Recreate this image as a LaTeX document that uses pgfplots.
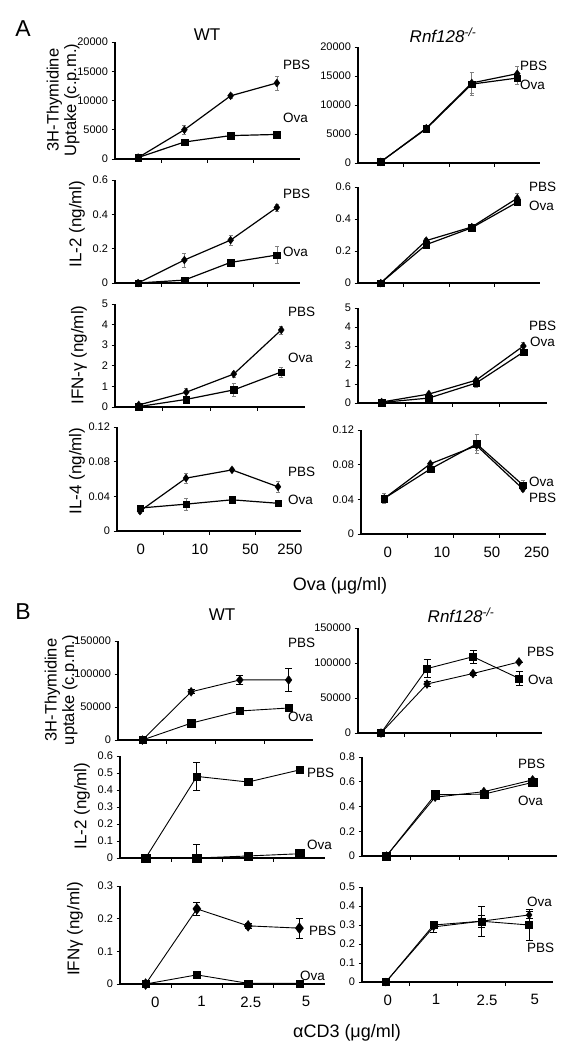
\documentclass[border=0pt]{standalone}
\usepackage{fontspec}
\setmainfont{Liberation Sans}
\usepackage{pgfplots}
\pgfplotsset{compat=1.18}
\newcommand{\fs}[1]{\fontsize{#1}{#1}\selectfont}
\pgfplotsset{
  panel/.style={
    scale only axis, anchor=south west,
    axis lines*=left,
    axis line style={line width=1.1pt, black},
    xmin=-0.5, xmax=3.5, ymin=0,
    xtick={0.5,1.5,2.5}, xticklabels={},
    tick align=outside, major tick length=3.5pt,
    tick style={black, line width=0.8pt},
    yticklabel style={font=\fs{11}, /pgf/number format/fixed, /pgf/number format/precision=2},
    /pgf/number format/assume math mode=true,
    /pgf/number format/set thousands separator={},
    scaled y ticks=false,
    clip=false,
  },
  botx/.style={extra x tick style={major tick length=0pt, xticklabel style={font=\fs{15}, yshift=-9pt}}},
  pA/.style={black, line width=1.2pt, mark=diamond*, mark size=4pt, mark options={solid, fill=black, line width=0.3pt}},
  oA/.style={black, line width=1.2pt, mark=square*, mark size=3.3pt, mark options={solid, fill=black, line width=0.3pt}},
  pB/.style={black, line width=0.9pt, mark=diamond*, mark size=4.5pt, mark options={solid, fill=black, line width=0.3pt}},
  oB/.style={black, line width=0.9pt, mark=square*, mark size=3.6pt, mark options={solid, fill=black, line width=0.3pt}},
  eA/.style={/pgfplots/error bars/y dir=both, /pgfplots/error bars/y explicit,
    /pgfplots/error bars/error bar style={line width=0.6pt, gray},
    /pgfplots/error bars/error mark options={rotate=90, mark size=2pt, line width=0.6pt, gray}},
  eB/.style={/pgfplots/error bars/y dir=both, /pgfplots/error bars/y explicit,
    /pgfplots/error bars/error bar style={line width=0.8pt, black},
    /pgfplots/error bars/error mark options={rotate=90, mark size=3.5pt, line width=0.8pt, black}},
}
\tikzset{
  lab/.style={font=\fs{13.5}, anchor=west, inner sep=0pt},
  ylab/.style={font=\fs{17}, rotate=90, anchor=center, inner sep=0pt, align=center},
  ttl/.style={font=\fs{17}, anchor=center, inner sep=0pt},
}
\begin{document}
\begin{tikzpicture}
\path[use as bounding box] (0,0) rectangle (580pt,-1050pt);

% ================= Panel A =================
% Row 1 WT
\begin{axis}[panel, at={(115pt,-159pt)}, width=185pt, height=117pt, ymax=20000, ytick={0,5000,10000,15000,20000}]
\addplot[pA,eA] table[row sep=\\, y error=e]{x y e\\ 0 250 0\\ 1 5000 800\\ 2 10800 400\\ 3 13000 1200\\};
\addplot[oA,eA] table[row sep=\\, y error=e]{x y e\\ 0 250 0\\ 1 2900 0\\ 2 4000 200\\ 3 4200 0\\};
\end{axis}
% Row 1 Rnf
\begin{axis}[panel, at={(358pt,-163pt)}, width=182pt, height=116pt, ymax=20000, ytick={0,5000,10000,15000,20000}]
\addplot[pA,eA] table[row sep=\\, y error=e]{x y e\\ 0 200 0\\ 1 6000 0\\ 2 13800 1800\\ 3 15400 1200\\};
\addplot[oA,eA] table[row sep=\\, y error=e]{x y e\\ 0 200 0\\ 1 5900 0\\ 2 13600 2000\\ 3 14650 1000\\};
\end{axis}
% Row 2 WT
\begin{axis}[panel, at={(115pt,-283pt)}, width=185pt, height=103pt, ymax=0.6, ytick={0,0.2,0.4,0.6}]
\addplot[pA,eA] table[row sep=\\, y error=e]{x y e\\ 0 0 0\\ 1 0.134 0.04\\ 2 0.25 0.03\\ 3 0.44 0.02\\};
\addplot[oA,eA] table[row sep=\\, y error=e]{x y e\\ 0 0 0\\ 1 0.017 0.005\\ 2 0.12 0.02\\ 3 0.163 0.05\\};
\end{axis}
% Row 2 Rnf
\begin{axis}[panel, at={(358pt,-283pt)}, width=182pt, height=96pt, ymax=0.6, ytick={0,0.2,0.4,0.6}]
\addplot[pA,eA] table[row sep=\\, y error=e]{x y e\\ 0 0 0\\ 1 0.265 0.015\\ 2 0.35 0.01\\ 3 0.53 0.03\\};
\addplot[oA,eA] table[row sep=\\, y error=e]{x y e\\ 0 0 0\\ 1 0.24 0.025\\ 2 0.345 0.01\\ 3 0.505 0.02\\};
\end{axis}
% Row 3 WT
\begin{axis}[panel, at={(115pt,-407pt)}, width=190pt, height=103pt, ymax=5, ytick={0,1,2,3,4,5}]
\addplot[pA,eA] table[row sep=\\, y error=e]{x y e\\ 0 0.1 0\\ 1 0.72 0.2\\ 2 1.6 0.15\\ 3 3.74 0.2\\};
\addplot[oA,eA] table[row sep=\\, y error=e]{x y e\\ 0 0.02 0\\ 1 0.37 0.1\\ 2 0.83 0.3\\ 3 1.7 0.25\\};
\end{axis}
% Row 3 Rnf
\begin{axis}[panel, at={(358pt,-403pt)}, width=189pt, height=95pt, ymax=5, ytick={0,1,2,3,4,5}]
\addplot[pA,eA] table[row sep=\\, y error=e]{x y e\\ 0 0.05 0\\ 1 0.47 0.05\\ 2 1.2 0.1\\ 3 3.0 0.2\\};
\addplot[oA,eA] table[row sep=\\, y error=e]{x y e\\ 0 0.03 0\\ 1 0.26 0.05\\ 2 1.05 0.2\\ 3 2.68 0.1\\};
\end{axis}
% Row 4 WT
\begin{axis}[panel, botx, at={(117pt,-531pt)}, width=184pt, height=104pt, ymax=0.12, ytick={0,0.04,0.08,0.12},
  extra x ticks={0.02,1.3,2.4,3.26}, extra x tick labels={0,10,50,250}]
\addplot[pA,eA] table[row sep=\\, y error=e]{x y e\\ 0 0.023 0.002\\ 1 0.061 0.006\\ 2 0.0705 0.002\\ 3 0.051 0.006\\};
\addplot[oA,eA] table[row sep=\\, y error=e]{x y e\\ 0 0.0265 0.002\\ 1 0.031 0.007\\ 2 0.036 0.002\\ 3 0.032 0.003\\};
\end{axis}
% Row 4 Rnf
\begin{axis}[panel, botx, at={(361pt,-534pt)}, width=185pt, height=104pt, ymax=0.12, ytick={0,0.04,0.08,0.12},
  extra x ticks={0.08,1.25,2.33,3.3}, extra x tick labels={0,10,50,250}]
\addplot[pA,eA] table[row sep=\\, y error=e]{x y e\\ 0 0.041 0.006\\ 1 0.081 0.002\\ 2 0.102 0.005\\ 3 0.052 0.003\\};
\addplot[oA,eA] table[row sep=\\, y error=e]{x y e\\ 0 0.041 0.006\\ 1 0.075 0.003\\ 2 0.104 0.011\\ 3 0.0565 0.006\\};
\end{axis}

% ================= Panel B =================
% Row 1 WT
\begin{axis}[panel, at={(118pt,-740pt)}, width=195pt, height=99pt, ymax=150000, ytick={0,50000,100000,150000}]
\addplot[pB,eB] table[row sep=\\, y error=e]{x y e\\ 0 0 0\\ 1 73000 3000\\ 2 91000 7000\\ 3 91000 17000\\};
\addplot[oB,eB] table[row sep=\\, y error=e]{x y e\\ 0 0 0\\ 1 25500 4000\\ 2 44000 3000\\ 3 48500 3000\\};
\end{axis}
% Row 1 Rnf
\begin{axis}[panel, at={(358pt,-733pt)}, width=184pt, height=105pt, ymax=150000, ytick={0,50000,100000,150000}]
\addplot[pB,eB] table[row sep=\\, y error=e]{x y e\\ 0 0 0\\ 1 70000 4000\\ 2 85000 2000\\ 3 101500 0\\};
\addplot[oB,eB] table[row sep=\\, y error=e]{x y e\\ 0 0 0\\ 1 92000 13000\\ 2 109000 9500\\ 3 78000 10000\\};
\end{axis}
% Row 2 WT
\begin{axis}[panel, at={(120pt,-858pt)}, width=205pt, height=102pt, ymax=0.6, ytick={0,0.1,0.2,0.3,0.4,0.5,0.6}]
\addplot[oB,eB] table[row sep=\\, y error=e]{x y e\\ 0 0 0\\ 1 0.48 0.08\\ 2 0.447 0.01\\ 3 0.518 0.015\\};
\addplot[oB,eB,mark size=4.3pt,/pgfplots/error bars/y dir=plus] table[row sep=\\, y error=e]{x y e\\ 0 0 0\\ 1 0 0.08\\ 2 0.012 0\\ 3 0.025 0\\};
\end{axis}
% Row 2 Rnf
\begin{axis}[panel, at={(362pt,-856pt)}, width=195pt, height=99pt, ymax=0.8, ytick={0,0.2,0.4,0.6,0.8}]
\addplot[pB,eB] table[row sep=\\, y error=e]{x y e\\ 0 0 0\\ 1 0.475 0\\ 2 0.52 0.01\\ 3 0.615 0.01\\};
\addplot[oB,eB,mark size=4.2pt] table[row sep=\\, y error=e]{x y e\\ 0 0 0\\ 1 0.495 0\\ 2 0.50 0\\ 3 0.595 0.01\\};
\end{axis}
% Row 3 WT
\begin{axis}[panel, botx, at={(120pt,-984pt)}, width=205pt, height=98pt, ymax=0.3, ytick={0,0.1,0.2,0.3},
  extra x ticks={0.19,1.09,2.05,3.13}, extra x tick labels={0,1,2.5,5}]
\addplot[pB,eB,mark size=5.5pt] table[row sep=\\, y error=e]{x y e\\ 0 0 0\\ 1 0.23 0.02\\ 2 0.178 0.007\\ 3 0.171 0.03\\};
\addplot[oB,eB] table[row sep=\\, y error=e]{x y e\\ 0 0 0\\ 1 0.028 0.004\\ 2 0.002 0\\ 3 0.002 0\\};
\end{axis}
% Row 3 Rnf
\begin{axis}[panel, botx, at={(362pt,-982pt)}, width=191pt, height=95pt, ymax=0.5, ytick={0,0.1,0.2,0.3,0.4,0.5},
  extra x ticks={0.04,1.05,2.12,3.12}, extra x tick labels={0,1,2.5,5}]
\addplot[pB,eB,mark size=4pt] table[row sep=\\, y error=e]{x y e\\ 0 0 0\\ 1 0.29 0.03\\ 2 0.32 0.03\\ 3 0.353 0.02\\};
\addplot[oB,eB,mark size=3.5pt] table[row sep=\\, y error=e]{x y e\\ 0 0 0\\ 1 0.30 0.015\\ 2 0.32 0.08\\ 3 0.30 0.08\\};
\end{axis}

% ================= Text =================
\node[font=\fs{23}, anchor=center, inner sep=0pt] at (23pt,-29pt) {A};
\node[ttl] at (207pt,-35pt) {WT};
\node[ttl] at (443pt,-35pt) {\textit{Rnf128}\textsuperscript{\textit{-/-}}};
\node[font=\fs{23}, anchor=center, inner sep=0pt] at (23pt,-612pt) {B};
\node[ttl] at (222pt,-615pt) {WT};
\node[ttl] at (461pt,-615pt) {\textit{Rnf128}\textsuperscript{\textit{-/-}}};

\node[ylab, font=\fs{16.5}] at (63pt,-100pt) {3H-Thymidine\\[1pt]Uptake (c.p.m.)};
\node[ylab] at (77pt,-224pt) {IL-2 (ng/ml)};
\node[ylab] at (79pt,-355pt) {IFN-γ (ng/ml)};
\node[ylab] at (77pt,-471pt) {IL-4 (ng/ml)};
\node[ylab, font=\fs{16.5}] at (61pt,-690pt) {3H-Thymidine\\[1pt]uptake (c.p.m.)};
\node[ylab] at (82pt,-806pt) {IL-2 (ng/ml)};
\node[ylab] at (75pt,-929pt) {IFNγ (ng/ml)};

\node[font=\fs{18}, anchor=center, inner sep=0pt] at (340pt,-586pt) {Ova (μg/ml)};
\node[font=\fs{18}, anchor=center, inner sep=0pt] at (347pt,-1033pt) {αCD3 (μg/ml)};

% series labels
\node[lab] at (283pt,-65pt) {PBS};
\node[lab] at (283pt,-118pt) {Ova};
\node[lab] at (520pt,-66pt) {PBS};
\node[lab] at (520pt,-85pt) {Ova};
\node[lab] at (283pt,-194pt) {PBS};
\node[lab] at (283pt,-252pt) {Ova};
\node[lab] at (529pt,-187pt) {PBS};
\node[lab] at (529pt,-206pt) {Ova};
\node[lab] at (288pt,-312pt) {PBS};
\node[lab] at (288pt,-358pt) {Ova};
\node[lab] at (529pt,-326pt) {PBS};
\node[lab] at (530pt,-342pt) {Ova};
\node[lab] at (288pt,-472pt) {PBS};
\node[lab] at (288pt,-500pt) {Ova};
\node[lab] at (529pt,-482pt) {Ova};
\node[lab] at (529pt,-498pt) {PBS};
\node[lab] at (288pt,-643pt) {PBS};
\node[lab] at (288pt,-717pt) {Ova};
\node[lab] at (527pt,-652pt) {PBS};
\node[lab] at (528pt,-680pt) {Ova};
\node[lab] at (307pt,-773pt) {PBS};
\node[lab] at (307pt,-845pt) {Ova};
\node[lab] at (518pt,-764pt) {PBS};
\node[lab] at (518pt,-801pt) {Ova};
\node[lab] at (309pt,-931pt) {PBS};
\node[lab] at (300pt,-976pt) {Ova};
\node[lab] at (527pt,-902pt) {Ova};
\node[lab] at (527pt,-948pt) {PBS};
\end{tikzpicture}
\end{document}
